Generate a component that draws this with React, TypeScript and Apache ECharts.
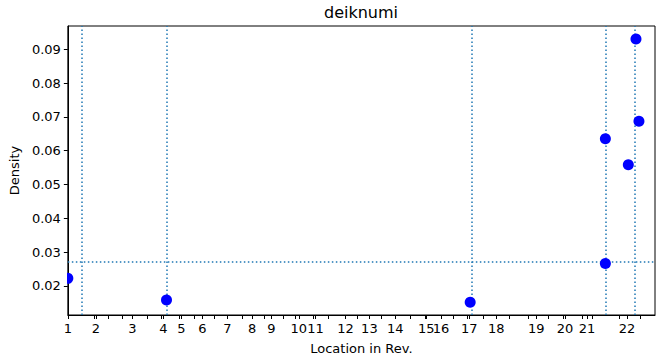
import React, { useEffect, useRef } from "react";
import * as echarts from "echarts";

// Chapter starts of Revelation (word offsets along the text)
const chapterLabels = ["1","2","3","4","5","6","7","8","9","10","11","12","13","14","15","16","17","18","19","20","21","22"];
const chapterStarts = [0, 470, 1087, 1608, 1910, 2263, 2683, 3103, 3423, 3886, 4167, 4671, 5074, 5511, 6032, 6279, 6754, 7208, 7880, 8367, 8737, 9409];
const extraTicks = [442, 677, 919, 1339, 1574, 1870, 2122, 2458, 2935, 3310, 3617, 3830, 4128, 4380, 4867, 5275, 5762, 6010, 6490, 6715, 6994, 7431, 7740, 8086, 8330, 8664, 8817, 9279, 9638];
const xMax = 9880;

// Occurrences of "deiknumi": location and density
const locations = [0, 1660, 6770, 9045, 9045, 9431, 9560, 9610];
const densities = [0.0222, 0.0158, 0.0151, 0.0266, 0.0635, 0.0558, 0.093, 0.0687];

// Reference lines
const verticalMarks = [235, 1663, 6790, 9045, 9544];
const horizontalMark = 0.0271;

const yTicks = [0.02, 0.03, 0.04, 0.05, 0.06, 0.07, 0.08, 0.09];
const yMin = 0.01136;
const yMax = 0.09687;

const FONT = "DejaVu Sans";

export default function App() {
  const ref = useRef<HTMLDivElement>(null);
  useEffect(() => {
    const chart = echarts.init(ref.current!, null, { renderer: "svg" });
    chart.setOption({
      animation: false,
      grid: {
        left: 67,
        right: 2,
        top: 26,
        bottom: 44,
        show: true,
        borderColor: "#000",
        borderWidth: 1,
        backgroundColor: "transparent",
      },
      graphic: [
        {
          type: "text",
          x: 361,
          y: 12,
          style: {
            text: "deiknumi",
            fontFamily: FONT,
            fontSize: 16,
            fill: "#000",
            align: "center",
            verticalAlign: "middle",
          },
        },
      ],
      xAxis: {
        type: "value",
        min: 0,
        max: xMax,
        name: "Location in Rev.",
        nameLocation: "middle",
        nameGap: 27,
        nameTextStyle: { fontFamily: FONT, fontSize: 13, color: "#000" },
        axisLine: { show: true, lineStyle: { color: "#000", width: 1 } },
        axisTick: {
          show: true,
          length: 4,
          customValues: [...chapterStarts, ...extraTicks],
          lineStyle: { color: "#000", width: 1 },
        },
        axisLabel: {
          customValues: chapterStarts,
          formatter: (v: number) => {
            const i = chapterStarts.indexOf(v);
            return i >= 0 ? chapterLabels[i] : "";
          },
          fontFamily: FONT,
          fontSize: 13,
          color: "#000",
          margin: 7,
          hideOverlap: false,
        },
        splitLine: { show: false },
      },
      yAxis: {
        type: "value",
        min: yMin,
        max: yMax,
        name: "Density",
        nameLocation: "middle",
        nameGap: 44,
        nameRotate: 90,
        nameTextStyle: { fontFamily: FONT, fontSize: 13, color: "#000" },
        axisLine: { show: true, lineStyle: { color: "#000", width: 1 } },
        axisTick: {
          show: true,
          length: 4,
          customValues: yTicks,
          lineStyle: { color: "#000", width: 1 },
        },
        axisLabel: {
          customValues: yTicks,
          formatter: (v: number) => v.toFixed(2),
          fontFamily: FONT,
          fontSize: 13,
          color: "#000",
          margin: 7,
        },
        splitLine: { show: false },
      },
      series: [
        {
          type: "line",
          data: [],
          z: 1,
          markLine: {
            silent: true,
            precision: 6,
            symbol: ["none", "none"],
            label: { show: false },
            lineStyle: { color: "#1f77b4", type: [1.5, 2.5], width: 1.5 },
            emphasis: { disabled: true },
            data: [
              ...verticalMarks.map((v) => ({ xAxis: v })),
              { yAxis: horizontalMark },
            ],
          },
        },
        {
          type: "custom",
          z: 10,
          clip: true,
          encode: { x: 0, y: 1 },
          data: locations.map((x, i) => [x, densities[i]]),
          renderItem: (params: any, api: any) => {
            const p = api.coord([api.value(0), api.value(1)]);
            return {
              type: "circle",
              shape: { cx: p[0], cy: p[1], r: 5.5 },
              style: { fill: "#0000ff" },
            };
          },
        },
      ],
    });
    return () => chart.dispose();
  }, []);
  return (
    <div
      ref={ref}
      style={{ position: "absolute", left: 0, top: 0, width: 657, height: 360 }}
    />
  );
}
